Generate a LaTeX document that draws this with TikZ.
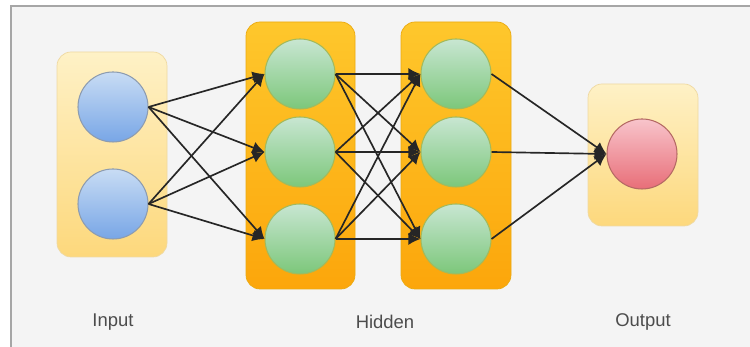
\documentclass[tikz,border=0pt]{standalone}
\usepackage{fontspec}
\setmainfont{Liberation Sans}
\usepackage{tikz}
\usetikzlibrary{arrows.meta,positioning,calc}

\definecolor{panelgray}{HTML}{F4F4F4}
\definecolor{framegray}{HTML}{A6A6A6}
\definecolor{paletop}{HTML}{FEF1C6}
\definecolor{palebot}{HTML}{FDD87C}
\definecolor{paleedge}{HTML}{EFD9A2}
\definecolor{orangetop}{HTML}{FEC72C}
\definecolor{orangebot}{HTML}{FCA60B}
\definecolor{orangeedge}{HTML}{EBAA10}
\definecolor{greentop}{HTML}{C8E6D2}
\definecolor{greenbot}{HTML}{7CC77A}
\definecolor{greenedge}{HTML}{A3BA5C}
\definecolor{bluetop}{HTML}{C8DCF4}
\definecolor{bluebot}{HTML}{78A6E6}
\definecolor{blueedge}{HTML}{8D9CB0}
\definecolor{redtop}{HTML}{F8C4CB}
\definecolor{redbot}{HTML}{E86E78}
\definecolor{rededge}{HTML}{B56A64}

\begin{document}
\begin{tikzpicture}[
    neuron/.style={circle, minimum size=1.4cm, inner sep=0pt, line width=0.6pt},
    inneuron/.style={neuron, draw=blueedge, top color=bluetop, bottom color=bluebot},
    hidneuron/.style={neuron, draw=greenedge, top color=greentop, bottom color=greenbot},
    outneuron/.style={neuron, draw=rededge, top color=redtop, bottom color=redbot},
    link/.style={line width=0.95pt, black!85, -{Latex[length=2.4mm,width=2.4mm]}},
    layerlabel/.style={font=\fontsize{10.5}{12}\selectfont, black!70}
  ]
    \useasboundingbox (0,0) rectangle (15,6.94);
    % Panel
    \fill[white] (0,0) rectangle (15,6.94);
    \fill[panelgray] (0.22,0) rectangle (15,6.82);
    \draw[framegray, line width=0.9pt] (0.22,0) -- (0.22,6.82) -- (15,6.82);

    % Layer boxes
    \shade[top color=paletop, bottom color=palebot, draw=paleedge, rounded corners=8pt]
      (1.14,1.80) rectangle (3.34,5.90);
    \shade[top color=orangetop, bottom color=orangebot, draw=orangeedge, rounded corners=8pt]
      (4.92,1.16) rectangle (7.10,6.50);
    \shade[top color=orangetop, bottom color=orangebot, draw=orangeedge, rounded corners=8pt]
      (8.02,1.16) rectangle (10.22,6.50);
    \shade[top color=paletop, bottom color=palebot, draw=paleedge, rounded corners=8pt]
      (11.76,2.42) rectangle (13.96,5.26);

    % Neurons
    \node[inneuron] (in1) at (2.26,4.80) {};
    \node[inneuron] (in2) at (2.26,2.86) {};
    \node[hidneuron] (ha1) at (6.00,5.46) {};
    \node[hidneuron] (ha2) at (6.00,3.90) {};
    \node[hidneuron] (ha3) at (6.00,2.16) {};
    \node[hidneuron] (hb1) at (9.12,5.46) {};
    \node[hidneuron] (hb2) at (9.12,3.90) {};
    \node[hidneuron] (hb3) at (9.12,2.16) {};
    \node[outneuron] (out) at (12.84,3.86) {};

    % Connections
    \foreach \i in {1,2}
      \foreach \j in {1,2,3}
        \draw[link] (in\i.east) -- (ha\j.west);
    \foreach \i in {1,2,3}
      \foreach \j in {1,2,3}
        \draw[link] (ha\i.east) -- (hb\j.west);
    \foreach \i in {1,2,3}
      \draw[link] (hb\i.east) -- (out.west);

    % Labels
    \node[layerlabel] (lblin) at (2.26,0.50) {Input};
    \node[layerlabel] (lblhid) at (7.70,0.50) {Hidden};
    \node[layerlabel] (lblout) at (12.86,0.50) {Output};
  \end{tikzpicture}
\end{document}
